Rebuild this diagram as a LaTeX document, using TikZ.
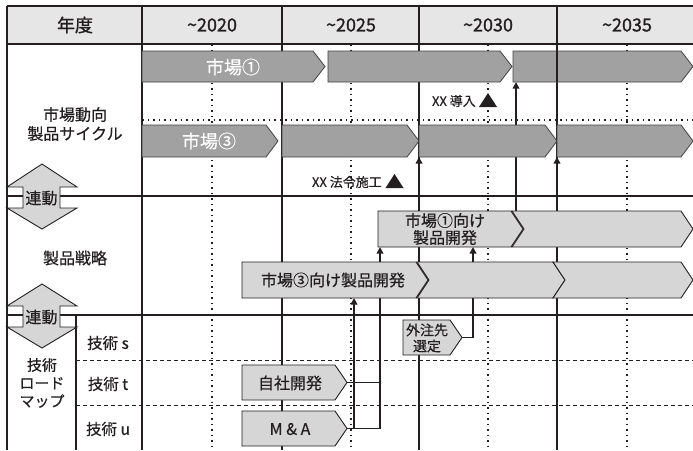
\documentclass[tikz,border=0pt]{standalone}
\usepackage{fontspec}
\setmainfont{Noto Sans CJK JP}
\newfontfamily\medfont{Noto Sans CJK JP}[FakeBold=0.45]
\newfontfamily\hdrfont{Noto Sans CJK JP}[FakeBold=1.1]
\usetikzlibrary{arrows.meta}
\definecolor{ink}{HTML}{231F20}
\definecolor{mkt}{HTML}{A0A1A0}
\definecolor{prd}{HTML}{D6D6D6}
\definecolor{hdr}{HTML}{E6E6E7}
\newcommand\pentbar[7]{% style, name, x1, x2, y1, y2, notch
  \draw[#1] (#3,#5) -- ({#4-12},#5) -- (#4,{(#5+#6)/2}) -- ({#4-12},#6) -- (#3,#6) -- ({#3+12*#7},{(#5+#6)/2}) -- cycle;
  \coordinate (#2-e) at (#4,{(#5+#6)/2});
}
\newcommand\fs[2]{\medfont\fontsize{#1}{#2}\selectfont}
\tikzset{
  gridline/.style={draw=ink, line width=1.1pt},
  dotline/.style={draw=ink, line width=1.3pt, dash pattern=on 1.5pt off 4pt},
  dashline/.style={draw=ink, line width=1pt, dash pattern=on 4pt off 3pt},
  mktbar/.style={fill=mkt, draw=ink!85, line width=0.8pt},
  prdbar/.style={fill=prd, draw=ink, line width=0.9pt},
  link/.style={draw=ink, line width=1.6pt},
  linkarrow/.style={link, -{Triangle[width=6.5pt,length=6.5pt]}},
  lbl/.style={text=ink, inner sep=0pt, align=center},
  marker/.style={fill=ink, draw=none},
}
\begin{document}
\begin{tikzpicture}[x=1pt,y=-1pt]
\useasboundingbox (0,0) rectangle (693,450);
% header
\fill[hdr] (7,6) rectangle (693,44);
% dotted/dashed guides
\foreach \x in {212,351,488,627} \draw[dotline] (\x,44) -- (\x,450);
\draw[dotline] (142,120) -- (693,120);
\draw[dashline] (76,360) -- (693,360);
\draw[dashline] (76,405) -- (693,405);
% grid
\draw[gridline] (7,6) -- (693,6);
\draw[gridline] (7,44) -- (693,44);
\draw[gridline] (7,196) -- (693,196);
\draw[gridline] (7,315) -- (693,315);
\draw[gridline] (7,6) -- (7,450);
\foreach \x in {142,282,419,557} \draw[gridline] (\x,6) -- (\x,450);
\draw[gridline] (76,315) -- (76,450);

% connector end points
\coordinate (jisha) at (347,382.5);
\coordinate (ma) at (347,428.5);
\coordinate (gaichu) at (462,337.5);
\coordinate (jA) at (380,382.5);
\coordinate (mB) at (380,428.5);
\coordinate (mC) at (354,428.5);
\coordinate (p3topA) at (419,262);
\coordinate (p3topB) at (557,262);
\coordinate (p1bot) at (516,211);
\coordinate (m1c) at (516,82);
\coordinate (m3c) at (419,157);
\coordinate (m3d) at (557,157);
\coordinate (p1A) at (380,247);
\coordinate (p1B) at (473,247);
\coordinate (p3A) at (354,298);
\coordinate (gA) at (473,337.5);

% connectors
\draw[linkarrow] (p3topA) -- (m3c);
\draw[linkarrow] (p3topB) -- (m3d);
\draw[linkarrow] (p1bot) -- (m1c);
\draw[link] (jisha) -- (jA);
\draw[linkarrow] (ma) -- (mB) -- (p1A);
\draw[linkarrow] (mC) -- (p3A);
\draw[linkarrow] (gaichu) -- (gA) -- (p1B);

% market bars
\pentbar{mktbar}{m1a}{142}{325}{51}{82}{0}
\pentbar{mktbar}{m1b}{328}{512}{51}{82}{0}
\pentbar{mktbar}{m1c}{513}{693}{51}{82}{0}
\pentbar{mktbar}{m3a}{142}{278}{125}{157}{0}
\pentbar{mktbar}{m3b}{282}{419}{125}{157}{0}
\pentbar{mktbar}{m3c}{419}{557}{125}{157}{0}
\pentbar{mktbar}{m3d}{557}{693}{125}{157}{0}
\draw[gridline] (557,51) -- (557,82);
% product bars
\pentbar{prdbar}{p1a}{378}{523}{211}{247}{0}
\pentbar{prdbar}{p1b}{512}{693}{211}{247}{1}
\pentbar{prdbar}{p3a}{242}{428}{262}{298}{0}
\pentbar{prdbar}{p3b}{417}{565}{262}{298}{1}
\pentbar{prdbar}{p3c}{553}{693}{262}{298}{1}
% tech bars
\pentbar{prdbar}{tj}{242}{347}{365}{400}{0}
\pentbar{prdbar}{tm}{242}{347}{411}{446}{0}
\pentbar{prdbar}{tg}{403}{462}{320}{355}{0}

% linkage arrows
\draw[prdbar] (42,164) -- (77,187) -- (60,187) -- (60,208) -- (77,208) -- (42,229) -- (7,208) -- (23,208) -- (23,187) -- (7,187) -- cycle;
\draw[prdbar] (42,284) -- (77,306) -- (60,306) -- (60,327) -- (77,327) -- (42,348) -- (7,327) -- (23,327) -- (23,306) -- (7,306) -- cycle;
\node[lbl, font=\fs{16}{18}] (rendo1) at (41.5,198) {連動};
\node[lbl, font=\fs{16}{18}] (rendo2) at (41.5,317) {連動};

% markers
\fill[marker] (488,93) -- (497,107) -- (479,107) -- cycle;
\fill[marker] (394.5,174) -- (403.5,188) -- (385.5,188) -- cycle;

% texts
\node[lbl, font=\hdrfont\fontsize{18}{21}\selectfont] (h0) at (75,25) {年度};
\node[lbl, font=\hdrfont\fontsize{18}{21}\selectfont] (h1) at (212,25) {\textasciitilde 2020};
\node[lbl, font=\hdrfont\fontsize{18}{21}\selectfont] (h2) at (351,25) {\textasciitilde 2025};
\node[lbl, font=\hdrfont\fontsize{18}{21}\selectfont] (h3) at (488,25) {\textasciitilde 2030};
\node[lbl, font=\hdrfont\fontsize{18}{21}\selectfont] (h4) at (627,25) {\textasciitilde 2035};
\node[lbl, font=\fs{16}{19}] (sec1) at (75,124) {市場動向\\製品サイクル};
\node[lbl, font=\fs{16}{19}] (sec2) at (75,258) {製品戦略};
\node[lbl, font=\fs{15}{18}] (sec3) at (42,383) {技術\\ロード\\マップ};
\node[lbl, font=\fs{15.5}{18}] (ts) at (108,343) {技術 s};
\node[lbl, font=\fs{15.5}{18}] (tt) at (108,384) {技術 t};
\node[lbl, font=\fs{15.5}{18}] (tu) at (108,429) {技術 u};
\node[lbl, font=\fs{18}{21}, text=white] (m1) at (233,67) {市場①};
\node[lbl, font=\fs{18}{21}, text=white] (m3) at (209,141) {市場③};
\node[lbl, font=\fs{13}{15}, anchor=east] (intro) at (476,101) {XX 導入};
\node[lbl, font=\fs{13}{15}, anchor=east] (law) at (382,182) {XX 法令施工};
\node[lbl, font=\fs{16}{17}] (p1t) at (445,229) {市場①向け\\製品開発};
\node[lbl, font=\fs{16}{19}] (p3t) at (333,280) {市場③向け製品開発};
\node[lbl, font=\fs{16}{19}] (tjt) at (290,383) {自社開発};
\node[lbl, font=\fs{16}{19}] (tmt) at (290,429) {M \& A};
\node[lbl, font=\fs{14}{16}] (tgt) at (427,338) {外注先\\選定};
\end{tikzpicture}
\end{document}
